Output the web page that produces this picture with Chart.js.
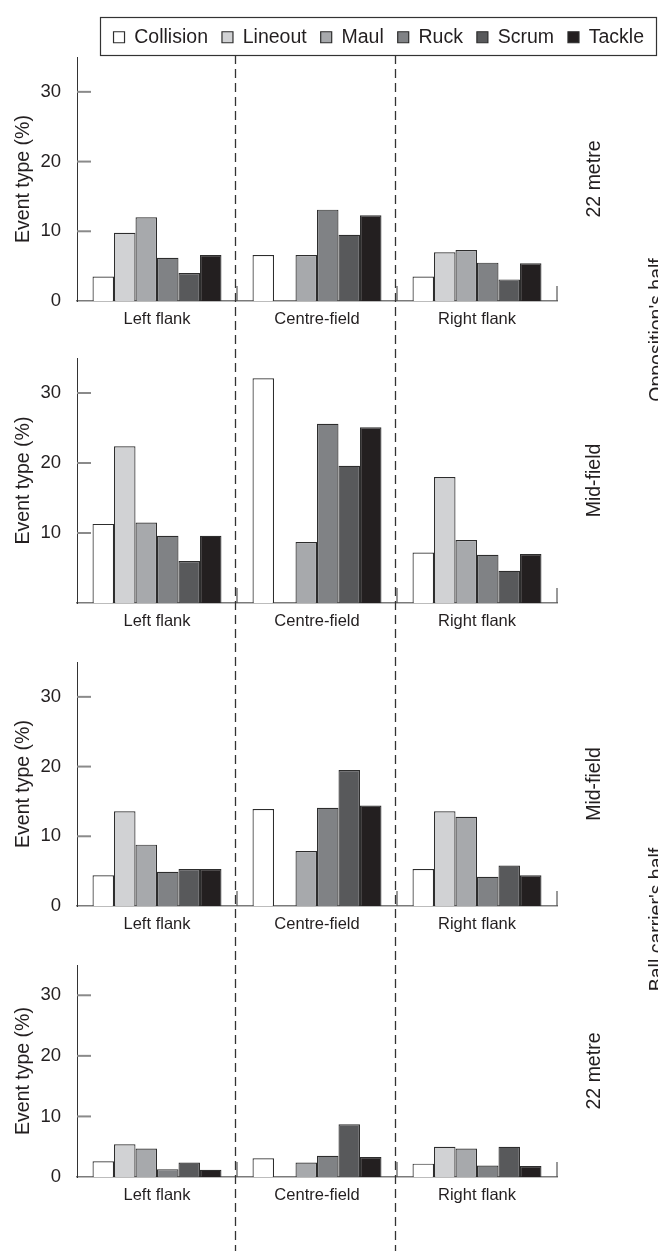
<!DOCTYPE html>
<html>
<head>
<meta charset="utf-8">
<title>Event type by pitch zone</title>
<script src="https://cdn.jsdelivr.net/npm/chart.js@4.4.1/dist/chart.umd.min.js"></script>
<style>
  html, body { margin: 0; padding: 0; background: #fff; }
  #wrap { position: relative; width: 658px; height: 1251px; overflow: hidden; background: #fff; }
  #wrap canvas { position: absolute; left: 0; }
</style>
</head>
<body>
<div id="wrap">
  <canvas id="p0" width="658" height="350" style="top:0px"></canvas>
  <canvas id="p1" width="658" height="322" style="top:330px"></canvas>
  <canvas id="p2" width="658" height="322" style="top:632px"></canvas>
  <canvas id="p3" width="658" height="317" style="top:934px"></canvas>
  <canvas id="overlay" width="658" height="1251" style="top:0px"></canvas>
</div>
<script>
'use strict';

const zones = ['Left flank', 'Centre-field', 'Right flank'];
const eventTypes = ['Collision', 'Lineout', 'Maul', 'Ruck', 'Scrum', 'Tackle'];
const yTicks = [0, 10, 20, 30];
const rowLabels = ['22 metre', 'Mid-field', 'Mid-field', '22 metre'];
const halfLabels = ["Opposition's half", "Ball carrier's half"];

// event type (%), Collision..Tackle, one list per zone
const opp22Left = [3.5, 9.8, 12.0, 6.2, 4.0, 6.6];
const opp22Centre = [6.6, 0, 6.6, 13.1, 9.5, 12.3];
const opp22Right = [3.5, 7.0, 7.3, 5.5, 3.1, 5.4];

const oppMidLeft = [11.3, 22.4, 11.5, 9.6, 6.0, 9.6];
const oppMidCentre = [32.1, 0, 8.7, 25.6, 19.6, 25.1];
const oppMidRight = [7.2, 18.0, 9.0, 6.9, 4.6, 7.0];

const ownMidLeft = [4.4, 13.6, 8.8, 4.9, 5.3, 5.3];
const ownMidCentre = [13.9, 0, 7.9, 14.1, 19.5, 14.4];
const ownMidRight = [5.3, 13.6, 12.8, 4.2, 5.8, 4.4];

const own22Left = [2.6, 5.4, 4.7, 1.3, 2.4, 1.2];
const own22Centre = [3.1, 0, 2.4, 3.5, 8.7, 3.3];
const own22Right = [2.2, 5.0, 4.7, 1.9, 5.0, 1.8];

const fills = ['#ffffff', '#d1d2d4', '#a7a9ac', '#808285', '#58595b', '#231f20'];
const ink = '#231f20';
const family = '"Liberation Sans", Arial, Helvetica, sans-serif';

Chart.defaults.font.family = family;
Chart.defaults.color = ink;

// canvas layout: plot top inside canvas, x-axis band height
let panels = [
  { id: 'p0', rows: [opp22Left, opp22Centre, opp22Right], legend: true, zero: true, areaTop: 57, xh: 49 },
  { id: 'p1', rows: [oppMidLeft, oppMidCentre, oppMidRight], legend: false, zero: false, areaTop: 28, xh: 49 },
  { id: 'p2', rows: [ownMidLeft, ownMidCentre, ownMidRight], legend: false, zero: true, areaTop: 30, xh: 48 },
  { id: 'p3', rows: [own22Left, own22Centre, own22Right], legend: false, zero: true, areaTop: 31, xh: 74 },
];

function line(ctx, x1, y1, x2, y2) {
  ctx.beginPath();
  ctx.moveTo(x1, y1);
  ctx.lineTo(x2, y2);
  ctx.stroke();
}

const innerTicks = {
  id: 'innerTicks',
  afterDraw(chart, args, opts) {
    let ctx = chart.ctx;
    let a = chart.chartArea;
    let x = chart.scales.x;
    let y = chart.scales.y;
    ctx.save();
    ctx.strokeStyle = '#8a8a8a';
    ctx.lineWidth = 2;
    y.ticks.forEach(t => {
      if (t.value === 0) return;
      let py = y.getPixelForValue(t.value);
      line(ctx, a.left, py, a.left + 14, py);
    });
    ctx.strokeStyle = '#555';
    ctx.lineWidth = 1.2;
    for (let i = 1; i <= zones.length; i++) {
      let px = x.left + i * x.width / zones.length;
      line(ctx, px, a.bottom, px, a.bottom - 15);
    }
    // row name on the right
    ctx.fillStyle = ink;
    ctx.font = '19.5px ' + family;
    ctx.textAlign = 'center';
    ctx.textBaseline = 'alphabetic';
    ctx.translate(a.right + 43, (a.top + a.bottom) / 2);
    ctx.rotate(-Math.PI / 2);
    ctx.fillText(opts.label, 0, 0);
    ctx.restore();
  }
};

const legendFrame = {
  id: 'legendFrame',
  afterDraw(chart) {
    let lg = chart.legend;
    if (!lg || !lg.options.display) return;
    let hb = lg.legendHitBoxes;
    let ctx = chart.ctx;
    let cy = hb[0].top + hb[0].height / 2;
    let left = Math.round(hb[0].left - 14) + 0.5;
    ctx.save();
    ctx.strokeStyle = '#333';
    ctx.lineWidth = 1.2;
    ctx.strokeRect(left, Math.round(cy - 20) + 0.5, chart.width - 1.5 - left, 38);
    ctx.restore();
  }
};

let charts = panels.map((p, k) => {
  let datasets = eventTypes.map((name, i) => ({
    label: name,
    data: p.rows.map(r => r[i]),
    backgroundColor: fills[i],
    borderColor: '#2d2d2d',
    borderWidth: 1.2,
  }));

  return new Chart(document.getElementById(p.id), {
    type: 'bar',
    data: { labels: zones, datasets: datasets },
    plugins: [innerTicks, legendFrame],
    options: {
      responsive: false,
      animation: false,
      devicePixelRatio: 1,
      layout: { padding: { left: 0, right: 0, top: p.legend ? 5 : 0, bottom: 0 } },
      datasets: { bar: { categoryPercentage: 0.806, barPercentage: 1 } },
      plugins: {
        legend: {
          display: p.legend,
          position: 'top',
          align: 'end',
          labels: { boxWidth: 11, boxHeight: 11, padding: 14, color: ink, font: { size: 19.5 } },
        },
        tooltip: { enabled: false },
        innerTicks: { label: rowLabels[k] },
      },
      scales: {
        x: {
          grid: { display: false },
          border: { display: true, color: '#7b7b7b', width: 1.5 },
          ticks: { color: ink, font: { size: 16.5 }, padding: 1, maxRotation: 0, autoSkip: false },
          afterFit: s => { s.height = p.xh; s.paddingLeft = 0; s.paddingRight = 101; },
        },
        y: {
          min: 0,
          max: 35,
          afterBuildTicks: s => { s.ticks = yTicks.map(v => ({ value: v })); },
          grid: { display: false },
          border: { display: true, color: '#333', width: 1 },
          ticks: {
            color: ink,
            font: { size: 18.5 },
            padding: 8,
            callback: v => (v === 0 && !p.zero) ? '' : v,
          },
          title: {
            display: true,
            text: 'Event type (%)',
            color: ink,
            font: { size: 19.5 },
            padding: { top: 12, bottom: 0 },
          },
          afterFit: s => { s.width = 77; s.paddingTop = p.areaTop; s.paddingBottom = 0; },
        },
      },
    },
  });
});

// dashed zone dividers and half names across all panels
let ov = document.getElementById('overlay').getContext('2d');
let offsets = panels.map(p => document.getElementById(p.id).offsetTop);
let first = charts[0];
let xs = first.scales.x;
ov.save();
ov.strokeStyle = '#333';
ov.lineWidth = 1.3;
ov.setLineDash([9, 5]);
for (let i = 1; i < zones.length; i++) {
  let px = Math.round(xs.left + i * xs.width / zones.length - 2) + 0.5;
  line(ov, px, offsets[0] + first.chartArea.top - 2, px, 1251);
}
ov.restore();

ov.save();
ov.fillStyle = ink;
ov.font = '19.5px ' + family;
ov.textAlign = 'center';
ov.textBaseline = 'alphabetic';
halfLabels.forEach((txt, h) => {
  let top = charts[h * 2];
  let bottom = charts[h * 2 + 1];
  let cy = (offsets[h * 2] + top.chartArea.top + offsets[h * 2 + 1] + bottom.chartArea.bottom) / 2;
  ov.save();
  ov.translate(top.chartArea.right + 106, cy);
  ov.rotate(-Math.PI / 2);
  ov.fillText(txt, 0, 0);
  ov.restore();
});
ov.restore();
</script>
</body>
</html>
